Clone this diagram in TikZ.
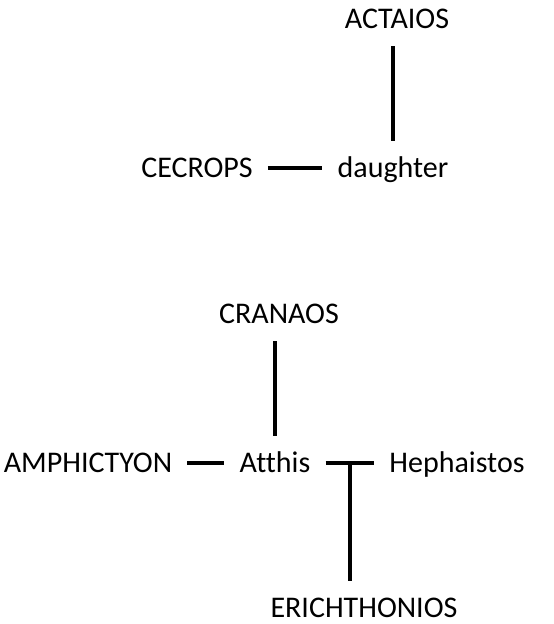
\documentclass[tikz,border=0pt]{standalone}
\usepackage{fontspec}
\setmainfont{Carlito}[Ligatures=NoCommon]
\usepackage{tikz}

\begin{document}
\begin{tikzpicture}[
  x=1pt, y=-1pt,
  famnode/.style={anchor=base, inner xsep=15pt, inner ysep=16pt,
               text height=20pt, text depth=2pt},
  every node/.style={font=\fontsize{30}{34}\selectfont},
  link/.style={line width=3.4pt}
]
  \useasboundingbox (0,0) rectangle (554,624);
  % first house
  \node[famnode] (actaios)  at (397,28)  {ACTAIOS};
  \node[famnode] (cecrops)  at (197,177) {CECROPS};
  \node[famnode] (daughter) at (393,177) {daughter};

  \draw[link] (cecrops) -- (daughter);
  \draw[link] (daughter.north) -- (daughter.north |- actaios.south);

  % second house
  \node[famnode] (cranaos)     at (279,323) {CRANAOS};
  \node[famnode] (amphictyon)  at (88,472)  {AMPHICTYON};
  \node[famnode] (atthis)      at (275,472) {Atthis};
  \node[famnode] (hephaistos)  at (457,472) {Hephaistos};
  \node[famnode, inner ysep=2pt] (erichthonios) at (364,617) {ERICHTHONIOS};

  \draw[link] (amphictyon) -- (atthis);
  \draw[link] (atthis.north) -- (atthis.north |- cranaos.south);
  \draw[link] (atthis) -- coordinate[midway] (union) (hephaistos);
  \draw[link, shorten >=14pt] (union) -- (union |- erichthonios.north);
\end{tikzpicture}
\end{document}
